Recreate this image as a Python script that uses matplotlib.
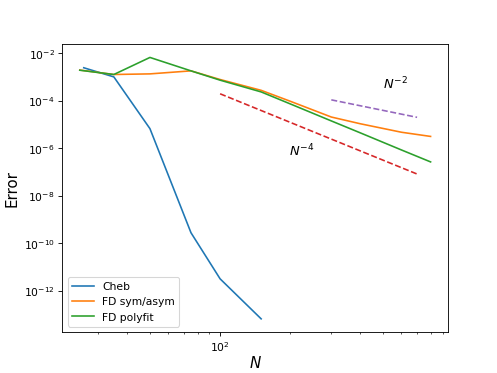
import numpy as np
import matplotlib
matplotlib.use("Agg")
import matplotlib.pyplot as plt

# Data
N_cheb = [26, 35, 50, 75, 100, 150]
err_cheb = [2.5e-3, 1.03e-3, 6.8e-6, 2.8e-10, 3.2e-12, 6.6e-14]

N_fd = [25, 35, 50, 75, 100, 150, 200, 300, 400, 600, 800]
err_symasym = [2.0e-3, 1.3e-3, 1.38e-3, 1.85e-3, 8.0e-4, 2.8e-4, 9.7e-5, 2.1e-5, 1.09e-5, 4.8e-6, 3.2e-6]
err_polyfit = [1.97e-3, 1.3e-3, 6.8e-3, 1.85e-3, 7.5e-4, 2.4e-4, 7.5e-5, 1.44e-5, 4.5e-6, 8.6e-7, 2.7e-7]

N_ref2 = [300, 700]
C_ref2 = 10.0
N_ref4 = [100, 700]
C_ref4 = 2.0e4

fig = plt.figure(figsize=(6.4, 4.8), dpi=77.8)
ax = fig.add_subplot(111)

ax.loglog(N_cheb, err_cheb, label="Cheb")
ax.loglog(N_fd, err_symasym, label="FD sym/asym")
ax.loglog(N_fd, err_polyfit, label="FD polyfit")

n2 = np.array(N_ref2, dtype=float)
n4 = np.array(N_ref4, dtype=float)
ax.loglog(n4, C_ref4 * n4**-4.0, "--", color="C3")
ax.loglog(n2, C_ref2 * n2**-2.0, "--", color="C4")

ax.text(564, 5.6e-4, r"$N^{-2}$", fontsize=12, ha="center", va="center")
ax.text(224, 8.3e-7, r"$N^{-4}$", fontsize=12, ha="center", va="center")

ax.set_xlabel(r"$N$", fontsize=14, labelpad=1.5)
ax.set_ylabel("Error", fontsize=14)
ax.legend(loc="lower left")

fig.savefig("out.png", dpi=77.8)
